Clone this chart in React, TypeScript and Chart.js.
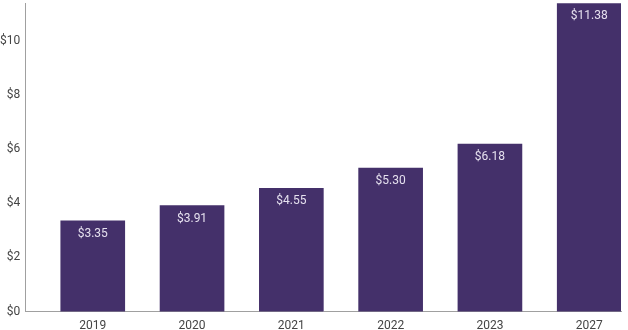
import React, { useEffect, useRef } from "react";
import { Chart, registerables } from "chart.js";

Chart.register(...registerables);

const categories = ["2019", "2020", "2021", "2022", "2023", "2027"];
const values = [3.35, 3.91, 4.55, 5.3, 6.18, 11.38];
const yTicks = [0, 2, 4, 6, 8, 10];

const barColor = "#44306a";
// bars sit toward the right side of each category slot
const slotShift = 0.68;

const valueLabels = {
  id: "valueLabels",
  afterDatasetsDraw(chart: any) {
    const { ctx } = chart;
    const meta = chart.getDatasetMeta(0);
    ctx.save();
    ctx.font = "12px Roboto";
    ctx.fillStyle = "#e6e1ef";
    ctx.textAlign = "center";
    ctx.textBaseline = "middle";
    meta.data.forEach((bar: any, i: number) => {
      ctx.fillText("$" + values[i].toFixed(2), bar.x, bar.y + 13);
    });
    ctx.restore();
  },
};

export default function App() {
  const ref = useRef<HTMLCanvasElement>(null);
  useEffect(() => {
    const chart = new Chart(ref.current!, {
      type: "bar",
      data: {
        datasets: [
          {
            data: values.map((v, i) => ({ x: i + slotShift, y: v })),
            backgroundColor: barColor,
            borderWidth: 0,
            barThickness: 64,
          },
        ],
      },
      options: {
        animation: false,
        responsive: false,
        maintainAspectRatio: false,
        layout: { padding: { top: 0, right: 7, left: -5, bottom: -10 } },
        plugins: { legend: { display: false }, tooltip: { enabled: false } },
        scales: {
          x: {
            type: "linear",
            min: 0,
            max: categories.length,
            offset: false,
            grid: { display: false, drawTicks: false },
            border: { display: true, color: "#a0a0a0", width: 1 },
            afterBuildTicks: (axis: any) => {
              axis.ticks = categories.map((_, i) => ({ value: i + slotShift }));
            },
            ticks: {
              color: "#444",
              font: { family: "Roboto", size: 12 },
              padding: 7,
              maxRotation: 0,
              autoSkip: false,
              callback: (_v: any, idx: number) => categories[idx],
            },
          },
          y: {
            min: 0,
            max: Math.max(...values),
            grid: { display: false, drawTicks: false },
            border: { display: true, color: "#a0a0a0", width: 1 },
            afterBuildTicks: (axis: any) => {
              axis.ticks = yTicks.map((v) => ({ value: v }));
            },
            ticks: {
              color: "#444",
              font: { family: "Roboto", size: 12 },
              padding: 5,
              callback: (v: any) => "$" + v,
            },
          },
        },
      },
      plugins: [valueLabels],
    });
    return () => chart.destroy();
  }, []);
  return (
    <div style={{ position: "fixed", left: 0, top: 0, width: 628, height: 330, background: "#fff", overflow: "hidden" }}>
      <canvas ref={ref} width={628} height={339} style={{ position: "absolute", left: 0, top: -9 }} />
    </div>
  );
}
